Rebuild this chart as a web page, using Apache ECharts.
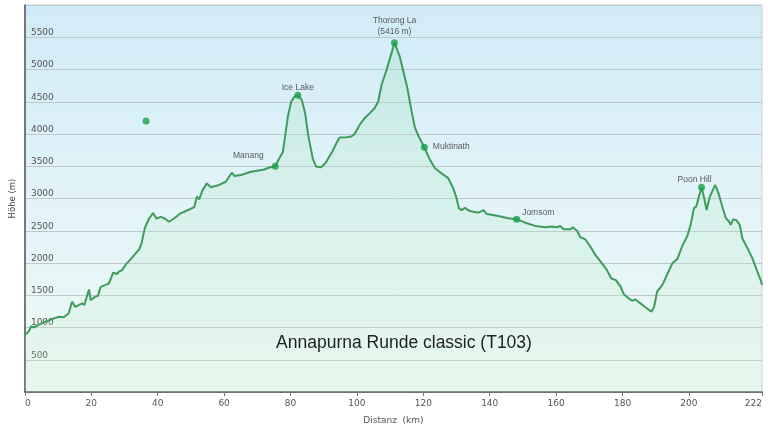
<!DOCTYPE html>
<html>
<head>
<meta charset="utf-8">
<script src="https://cdn.jsdelivr.net/npm/echarts@6/dist/echarts.min.js"></script>
<style>
html,body{margin:0;padding:0;background:#fff;}
#chart{width:768px;height:431px;}
</style>
</head>
<body>
<div id="chart"></div>
<script>
// Profile (distance km, altitude m)
var profileKm = [0,1.1,1.9,2.6,4.1,6.2,8.7,10.2,11.7,13.2,14.2,15.2,17.2,17.9,19.3,19.8,21.3,22.0,22.8,24.3,25.3,26.6,27.8,28.3,29.3,30.3,31.8,34.4,35.1,36.1,37.4,38.6,39.6,40.9,42.1,43.4,44.9,46.9,49.5,51.0,51.8,52.5,53.5,54.8,56.0,58.5,60.5,62.3,63.1,65.1,68.1,72.1,73.6,75.4,76.6,77.7,78.2,79.2,80.2,81.2,82.2,83.4,84.4,85.4,86.7,87.7,89.2,90.5,92.3,93.8,94.8,96.8,98.3,99.3,100.8,102.3,103.8,105.3,106.4,107.4,108.9,110.4,111.3,112.9,113.9,115.2,116.4,117.4,118.6,120.3,122.0,123.5,125.5,127.5,129.0,130.0,130.7,131.5,132.5,134.0,136.6,138.1,139.1,142.6,145.6,148.1,150.7,153.7,156.7,158.7,160.2,161.2,162.3,164.3,165.0,166.3,167.3,168.8,170.3,171.8,173.8,175.3,176.6,178.0,179.4,180.4,181.9,182.9,183.9,185.1,186.9,188.7,189.5,190.4,192.0,193.5,195.0,196.5,198.0,199.5,200.5,201.5,202.2,203.0,203.8,204.6,205.3,206.3,207.9,208.9,209.9,211.1,212.1,212.6,213.3,214.3,215.3,216.1,217.6,219.1,220.6,221.6,222.0];
var profileAlt = [890,935,1020,1000,1040,1090,1140,1165,1160,1220,1400,1320,1375,1350,1590,1425,1480,1490,1630,1660,1685,1850,1830,1865,1890,1970,2055,2210,2300,2540,2690,2775,2690,2715,2690,2640,2690,2770,2830,2865,3030,2985,3130,3235,3175,3210,3260,3400,3350,3365,3415,3450,3480,3500,3620,3720,3905,4270,4500,4580,4600,4530,4320,3960,3620,3495,3485,3545,3700,3855,3945,3950,3960,4000,4140,4245,4320,4400,4500,4760,4990,5250,5416,5200,4990,4710,4370,4110,3960,3795,3600,3470,3390,3315,3160,3005,2850,2820,2855,2805,2780,2820,2760,2730,2695,2680,2625,2575,2555,2565,2553,2574,2522,2522,2553,2500,2400,2365,2255,2125,1995,1890,1760,1735,1635,1515,1450,1415,1435,1385,1315,1245,1320,1555,1660,1830,1995,2060,2265,2420,2590,2850,2875,3030,3175,3005,2820,3030,3210,3080,2900,2695,2640,2590,2675,2665,2590,2380,2230,2075,1865,1735,1660];

// Points of interest
var poiNames = ['', 'Manang', 'Ice Lake', 'Thorong La\n(5416 m)', 'Muktinath', 'Jomsom', 'Poon Hill'];
var poiKm    = [36.5, 75.4, 82.2, 111.3, 120.3, 148.1, 203.8];
var poiAlt   = [4200, 3500, 4600, 5416, 3795, 2680, 3175];

var xTicks = [0,20,40,60,80,100,120,140,160,180,200,222];
var chartTitle = 'Annapurna Runde classic (T103)';
var xName = 'Distanz  (km)';
var yName = 'Höhe (m)';

var labelStyles = {
  'Manang':   {position:'top', distance:3, offset:[-27,0]},
  'Ice Lake': {position:'top', distance:0, offset:[0,0]},
  'Thorong La\n(5416 m)': {position:'top', distance:2, offset:[0,0], lineHeight:11},
  'Muktinath':{position:'right', distance:5, offset:[0,-1]},
  'Jomsom':   {position:'right', distance:2, offset:[0,-6]},
  'Poon Hill':{position:'top', distance:0, offset:[-7,0]}
};

var lineData = profileKm.map(function(k,i){return [k, profileAlt[i]];});
var poiData = poiKm.map(function(k,i){
  var n = poiNames[i];
  var d = {value:[k, poiAlt[i]], name:n};
  if (n) {
    var s = labelStyles[n];
    d.label = Object.assign({show:true, formatter:n, fontSize:8.5, color:'#333', fontFamily:'Liberation Sans'}, s);
  } else {
    d.label = {show:false};
  }
  return d;
});

var chart = echarts.init(document.getElementById('chart'), null, {renderer:'canvas'});
chart.setOption({
  animation:false,
  backgroundColor:'#ffffff',
  grid:{left:23, right:6, top:5, bottom:39, show:true, borderColor:'#c8d0d4', borderWidth:1,
    backgroundColor:new echarts.graphic.LinearGradient(0,0,0,1,[
      {offset:0,color:'#d0ebf7'},{offset:0.5,color:'#e2f4f9'},{offset:1,color:'#eef9f3'}])},
  xAxis:{type:'value', min:0, max:222,
    name:xName, nameLocation:'middle', nameGap:24,
    nameTextStyle:{fontFamily:'DejaVu Sans', fontSize:9, color:'#555'},
    axisLine:{show:true, onZero:false, lineStyle:{color:'#555', width:1.5}},
    axisTick:{show:true, customValues:xTicks, length:4, lineStyle:{color:'#777'}},
    axisLabel:{customValues:xTicks, fontFamily:'DejaVu Sans', fontSize:9, color:'#555', margin:7,
      alignMinLabel:'left', alignMaxLabel:'right'},
    splitLine:{show:false}
  },
  yAxis:{type:'value', min:0, max:6000, interval:500,
    name:yName, nameLocation:'middle', nameGap:3, nameRotate:90,
    nameTextStyle:{fontFamily:'DejaVu Sans', fontSize:8.5, color:'#444', verticalAlign:'bottom'},
    axisLine:{show:true, lineStyle:{color:'#555', width:1.5}},
    axisTick:{show:false},
    axisLabel:{inside:true, margin:6, verticalAlign:'bottom', fontFamily:'DejaVu Sans', fontSize:9, color:'#555',
      formatter:function(v){return (v===0||v===6000)?'':String(v);}},
    splitLine:{show:true, lineStyle:{color:'#bfc9cd', width:1}}
  },
  series:[
    {type:'line', data:lineData, showSymbol:false, smooth:false,
     lineStyle:{color:'#3f9c5e', width:2},
     areaStyle:{color:new echarts.graphic.LinearGradient(0,0,0,1,[
       {offset:0,color:'rgba(150,220,170,0.35)'},{offset:1,color:'rgba(200,240,210,0.25)'}])},
     z:2},
    {type:'scatter', data:poiData, symbolSize:7, itemStyle:{color:'#17a04a'}, z:3}
  ],
  graphic:[
    {type:'text', x:404, y:343, z:10,
     style:{text:chartTitle, fontFamily:'Liberation Sans', fontSize:17.5, fill:'#222', textAlign:'center', textVerticalAlign:'middle'}}
  ]
});
</script>
</body>
</html>
